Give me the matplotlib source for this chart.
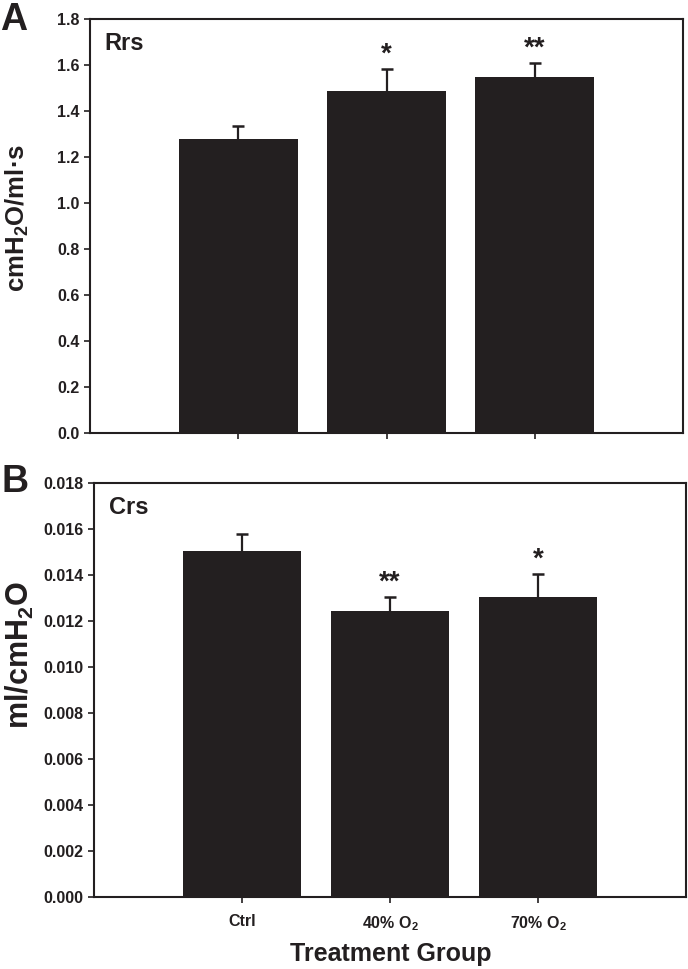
import matplotlib
matplotlib.use('Agg')
import matplotlib.pyplot as plt
import numpy as np

plt.rcParams['font.family'] = ['Liberation Sans', 'DejaVu Sans']
plt.rcParams['font.weight'] = 'bold'
plt.rcParams['mathtext.fontset'] = 'custom'
plt.rcParams['mathtext.rm'] = 'Liberation Sans:bold'
plt.rcParams['mathtext.bf'] = 'Liberation Sans:bold'
plt.rcParams['mathtext.it'] = 'Liberation Sans:bold'

# data
groups = ['Ctrl', '40% O$_\\mathbf{2}$', '70% O$_\\mathbf{2}$']
rrs_mean = [1.28, 1.487, 1.549]
rrs_err = [0.055, 0.095, 0.058]
rrs_sig = ['', '*', '**']
crs_mean = [0.01505, 0.01243, 0.01306]
crs_err = [0.00072, 0.00061, 0.00099]
crs_sig = ['', '**', '*']

INK = '#231f20'

fig = plt.figure(figsize=(6.88, 9.69), dpi=100)
W, H = 688, 969


def px_axes(l, t, r, b):
    return fig.add_axes([l / W, 1 - b / H, (r - l) / W, (b - t) / H])


def draw_panel(ax, means, errs, sig, ylim, step, fmt, title):
    x = np.arange(len(means))
    means = np.asarray(means)
    errs = np.asarray(errs)
    ax.bar(x, means, width=0.8, color=INK, edgecolor='none', zorder=2)
    # upper error bars only, no cap at the bar top
    ax.vlines(x, means, means + errs, color=INK, linewidth=1.6, zorder=3)
    ax.plot(x, means + errs, linestyle='none', marker='_', markersize=9,
            markeredgewidth=1.8, color=INK, zorder=3, clip_on=False)
    for xi, m, e, s in zip(x, means, errs, sig):
        if s:
            ax.annotate(s, (xi, m + e), xytext=(0, 1), textcoords='offset points',
                        ha='center', va='bottom', fontsize=20, fontweight='bold', color=INK)
    ax.set_xlim(-1.0, 3.0)
    ax.set_ylim(*ylim)
    ax.set_yticks(np.arange(ylim[0], ylim[1] + step / 2, step))
    ax.yaxis.set_major_formatter(matplotlib.ticker.FormatStrFormatter(fmt))
    ax.set_xticks(x)
    for sp in ax.spines.values():
        sp.set_linewidth(1.5)
        sp.set_color(INK)
    ax.tick_params(direction='out', length=4.5, width=1.2, colors=INK, labelsize=11.5)
    ax.tick_params(axis='y', pad=3)
    ax.text(0.025, 0.968, title, transform=ax.transAxes, ha='left', va='top',
            fontsize=17, fontweight='bold', color=INK)


axA = px_axes(90, 19, 683, 433)
draw_panel(axA, rrs_mean, rrs_err, rrs_sig, (0, 1.8), 0.2, '%.1f', 'Rrs')
axA.set_xticklabels([])

axB = px_axes(94, 483, 686, 897)
draw_panel(axB, crs_mean, crs_err, crs_sig, (0, 0.018), 0.002, '%.3f', 'Crs')
axB.set_xticklabels(groups, fontsize=11.5, fontweight='bold')
axB.tick_params(axis='x', pad=8)

fig.text(17 / W, 1 - 218 / H, 'cmH$_\\mathbf{2}$O/ml·s', rotation=90, ha='center', va='center',
         fontsize=18.5, fontweight='bold', color=INK)
fig.text(20 / W, 1 - 655 / H, 'ml/cmH$_\\mathbf{2}$O', rotation=90, ha='center', va='center',
         fontsize=22, fontweight='bold', color=INK)
fig.text(391 / W, 1 - 961 / H, 'Treatment Group', ha='center', va='baseline',
         fontsize=18, fontweight='bold', color=INK)

fig.text(0 / W, 1 - 20 / H, 'A', ha='left', va='center', fontsize=27, fontweight='bold', color=INK)
fig.text(2 / W, 1 - 482 / H, 'B', ha='left', va='center', fontsize=27, fontweight='bold', color=INK)

fig.savefig('out.png', dpi=100)
